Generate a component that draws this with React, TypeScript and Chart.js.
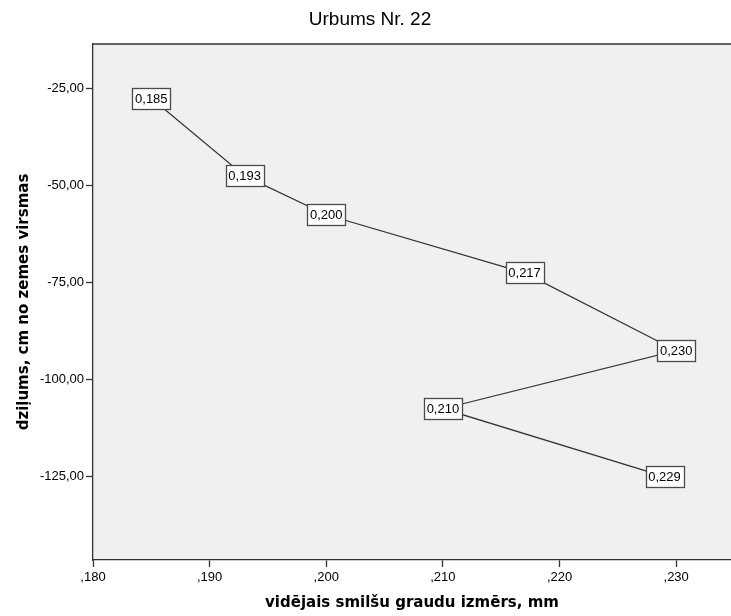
import React, { useEffect, useRef } from "react";
import { Chart, registerables } from "chart.js";

Chart.register(...registerables);

const chartTitle = "Urbums Nr. 22";
const xAxisTitle = "vidējais smilšu graudu izmērs, mm";
const yAxisTitle = "dziļums, cm no zemes virsmas";

const grainSize = [0.185, 0.193, 0.2, 0.217, 0.23, 0.21, 0.229];
const depth = [-27.5, -47.5, -57.5, -72.5, -92.5, -107.5, -125];
const pointLabels = ["0,185", "0,193", "0,200", "0,217", "0,230", "0,210", "0,229"];

const xTickValues = [0.18, 0.19, 0.2, 0.21, 0.22, 0.23];
const xTickLabels = [",180", ",190", ",200", ",210", ",220", ",230"];
const yTickValues = [-25, -50, -75, -100, -125];
const yTickLabels = ["-25,00", "-50,00", "-75,00", "-100,00", "-125,00"];

const X_MIN = 0.18;
const X_MAX = 0.2347;
const Y_MIN = -146.5;
const Y_MAX = -13.5;

const AX = "#333333";
const SANS = "Arial, 'Liberation Sans', sans-serif";
const BOLD = "'DejaVu Sans', Verdana, sans-serif";

const decor = {
  id: "decor",
  beforeDraw(chart: any) {
    const { ctx, chartArea } = chart;
    const { left, top, right, bottom } = chartArea;
    ctx.save();
    ctx.fillStyle = "#ffffff";
    ctx.fillRect(0, 0, chart.width, chart.height);
    ctx.fillStyle = "#f0f0f0";
    ctx.fillRect(left, top, right - left, bottom - top);
    ctx.restore();
  },
  afterDatasetsDraw(chart: any) {
    const { ctx, chartArea } = chart;
    const meta = chart.getDatasetMeta(0);
    ctx.save();
    // top frame line
    ctx.strokeStyle = AX;
    ctx.lineWidth = 1.3;
    ctx.beginPath();
    ctx.moveTo(chartArea.left, chartArea.top);
    ctx.lineTo(chartArea.right, chartArea.top);
    ctx.stroke();
    // value label boxes
    ctx.font = `13px ${SANS}`;
    ctx.textAlign = "center";
    ctx.textBaseline = "middle";
    meta.data.forEach((pt: any, i: number) => {
      const w = 38;
      const h = 21;
      const x = Math.round(pt.x - w / 2) + 0.5;
      const y = Math.round(pt.y - h / 2) + 0.5;
      ctx.fillStyle = "#ffffff";
      ctx.fillRect(x, y, w, h);
      ctx.strokeStyle = "#4a4a4a";
      ctx.lineWidth = 1.3;
      ctx.strokeRect(x, y, w, h);
      ctx.fillStyle = "#000000";
      ctx.fillText(pointLabels[i], pt.x, pt.y + 1);
    });
    ctx.restore();
  },
  afterDraw(chart: any) {
    const { ctx } = chart;
    ctx.save();
    ctx.fillStyle = "#000000";
    ctx.font = `19px ${SANS}`;
    ctx.textAlign = "center";
    ctx.textBaseline = "middle";
    ctx.fillText(chartTitle, 370, 20);
    ctx.restore();
  },
};

export default function App() {
  const canvasRef = useRef<HTMLCanvasElement | null>(null);

  useEffect(() => {
    if (!canvasRef.current) return;
    const chart = new Chart(canvasRef.current, {
      type: "scatter",
      data: {
        datasets: [
          {
            label: "Urbums Nr. 22",
            data: grainSize.map((g, i) => ({ x: g, y: depth[i] })),
            showLine: true,
            borderColor: "#333333",
            borderWidth: 1.2,
            pointRadius: 0,
            pointHoverRadius: 0,
            fill: false,
          },
        ],
      },
      options: {
        animation: false,
        responsive: false,
        devicePixelRatio: 1,
        layout: { padding: { top: 44, right: 0, bottom: 0, left: 0 } },
        plugins: {
          legend: { display: false },
          title: { display: false },
          tooltip: { enabled: false },
        },
        scales: {
          x: {
            type: "linear",
            min: X_MIN,
            max: X_MAX,
            afterBuildTicks: (scale: any) => {
              scale.ticks = xTickValues.map((v) => ({ value: v }));
            },
            afterFit: (scale: any) => {
              scale.height = 56;
            },
            grid: {
              display: true,
              drawOnChartArea: false,
              drawTicks: true,
              tickLength: 7,
              tickColor: AX,
              tickWidth: 1.3,
            },
            border: { display: true, color: AX, width: 1.3 },
            ticks: {
              autoSkip: false,
              maxRotation: 0,
              padding: 3,
              color: "#000000",
              font: { family: SANS, size: 13 },
              callback: (_v: any, i: number) => xTickLabels[i],
            },
            title: {
              display: true,
              text: xAxisTitle,
              color: "#000000",
              font: { family: BOLD, size: 15, weight: "bold" },
              padding: { top: 0, bottom: 4 },
            },
          },
          y: {
            type: "linear",
            min: Y_MIN,
            max: Y_MAX,
            afterBuildTicks: (scale: any) => {
              scale.ticks = yTickValues.map((v) => ({ value: v }));
            },
            afterFit: (scale: any) => {
              scale.width = 93;
            },
            grid: {
              display: true,
              drawOnChartArea: false,
              drawTicks: true,
              tickLength: 7,
              tickColor: AX,
              tickWidth: 1.3,
            },
            border: { display: true, color: AX, width: 1.3 },
            ticks: {
              autoSkip: false,
              padding: 2,
              color: "#000000",
              font: { family: SANS, size: 13 },
              callback: (_v: any, i: number) => yTickLabels[i],
            },
            title: {
              display: true,
              text: yAxisTitle,
              color: "#000000",
              font: { family: BOLD, size: 15, weight: "bold" },
              padding: { top: 15, bottom: 0 },
            },
          },
        },
      },
      plugins: [decor],
    } as any);
    return () => chart.destroy();
  }, []);

  return (
    <div style={{ position: "absolute", left: 0, top: 0, width: 731, height: 616 }}>
      <canvas ref={canvasRef} width={731} height={616} style={{ width: 731, height: 616, display: "block" }} />
    </div>
  );
}
